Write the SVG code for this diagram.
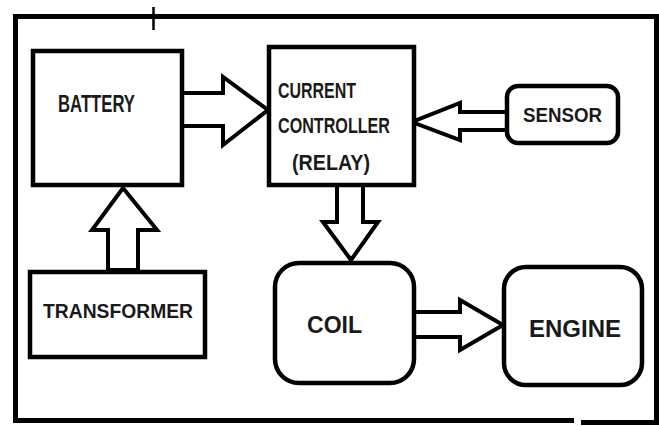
<svg xmlns="http://www.w3.org/2000/svg" width="659" height="427" viewBox="0 0 659 427">
<style>
.box{fill:#fff;stroke:#000;stroke-width:4.5}
.arr{fill:#fff;stroke:#000;stroke-width:4;stroke-linejoin:miter}
.t{font-family:"Liberation Sans",Arial,sans-serif;font-weight:bold;fill:#1a1a1a}
.frame{fill:none;stroke:#000;stroke-width:5}
</style>
<rect width="659" height="427" fill="#fff"/>
<g id="frame">
<path class="frame" d="M15.5 423 V16.5 H656.5 V422"/>
<path class="frame" d="M15.5 420.5 H574"/>
<path class="frame" d="M581 422.5 H659"/>
<line x1="153.5" y1="7" x2="153.5" y2="30" stroke="#000" stroke-width="2.5"/>
</g>
<g id="connectors">
<path class="arr" d="M182 93 H223 V77 L268 110 L223 145 V126 H182"/>
<path class="arr" d="M507 112 H460 V103 L412 122 L460 140 V130 H507"/>
<path class="arr" d="M108 271 V230 H92 L123 188 L157 230 H138 V271"/>
<path class="arr" d="M337 185 V222 H323 L351 260 L378 222 H363 V185"/>
<path class="arr" d="M414 312 H460 V300 L503 325 L460 350 V337 H414"/>
<rect x="106" y="268" width="34" height="5" fill="#000"/>
</g>
<g id="battery">
<rect class="box" x="33" y="51" width="149" height="134"/>
<text class="t" x="58" y="112" font-size="23" textLength="77" lengthAdjust="spacingAndGlyphs">BATTERY</text>
</g>
<g id="controller">
<rect class="box" x="269" y="47" width="145" height="138"/>
<text class="t" x="278" y="98" font-size="22" textLength="78" lengthAdjust="spacingAndGlyphs">CURRENT</text>
<text class="t" x="278" y="133" font-size="22" textLength="112" lengthAdjust="spacingAndGlyphs">CONTROLLER</text>
<text class="t" x="292" y="170" font-size="22" textLength="78" lengthAdjust="spacingAndGlyphs">(RELAY)</text>
</g>
<g id="sensor">
<rect class="box" x="507" y="86" width="111" height="57" rx="11"/>
<text class="t" x="523" y="122" font-size="21" textLength="79" lengthAdjust="spacingAndGlyphs">SENSOR</text>
</g>
<g id="transformer">
<rect class="box" x="30" y="272" width="175" height="85"/>
<text class="t" x="43" y="318" font-size="21" textLength="150" lengthAdjust="spacingAndGlyphs">TRANSFORMER</text>
</g>
<g id="coil">
<rect class="box" x="275" y="263" width="139" height="120" rx="24"/>
<text class="t" x="307" y="333" font-size="24" textLength="55" lengthAdjust="spacingAndGlyphs">COIL</text>
</g>
<g id="engine">
<rect class="box" x="504" y="267" width="138" height="118" rx="22"/>
<text class="t" x="529" y="337" font-size="24" textLength="92" lengthAdjust="spacingAndGlyphs">ENGINE</text>
</g>
</svg>
